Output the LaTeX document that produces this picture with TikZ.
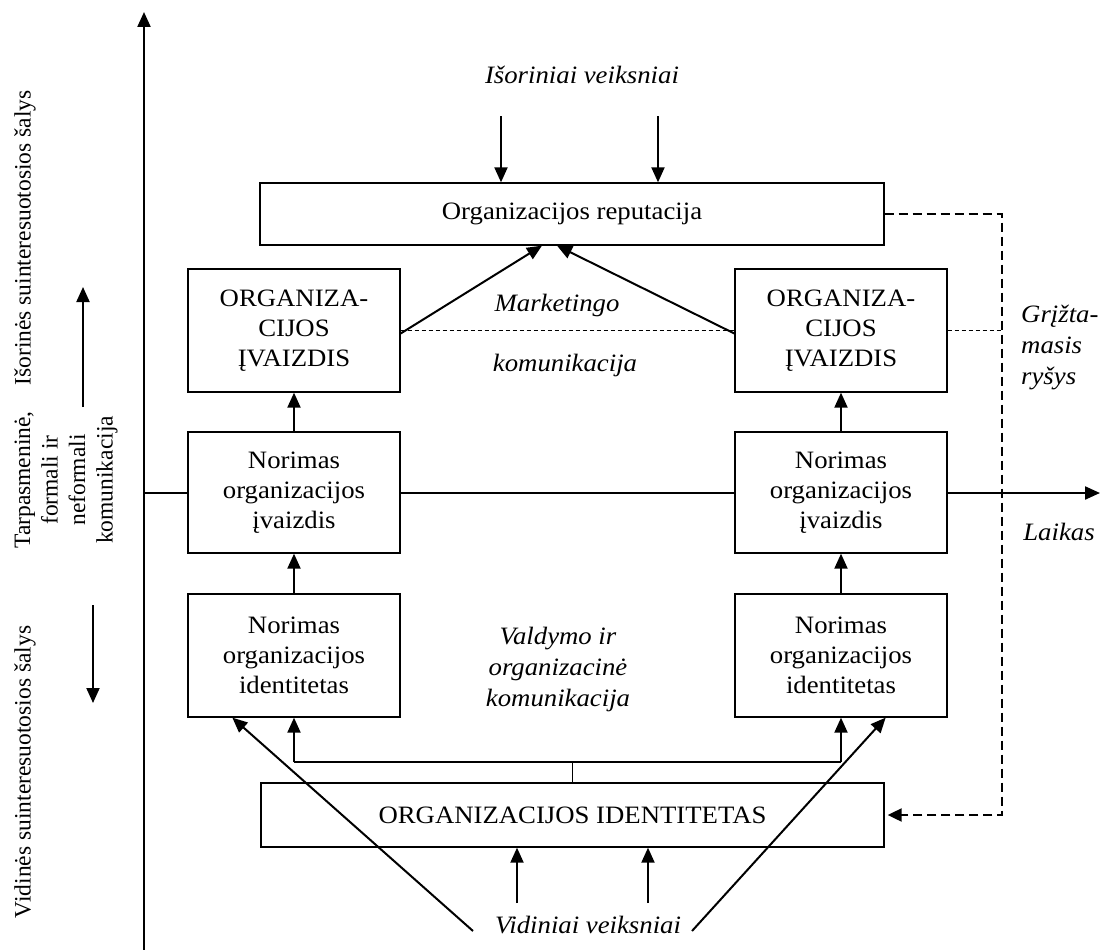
\documentclass[tikz,border=0pt]{standalone}
\usepackage{fontspec}
\setmainfont{Liberation Serif}[FakeStretch=1.07]
\newfontfamily\sidefont{Liberation Serif}
\usetikzlibrary{arrows.meta,calc}

\begin{document}
\begin{tikzpicture}[x=1pt,y=-1pt,
  lbl/.style={font=\fontsize{25}{30}\selectfont, align=center, inner sep=0pt},
  itl/.style={font=\fontsize{25}{30}\selectfont\itshape, align=center, inner sep=0pt},
  box/.style={draw, line width=1.3pt, lbl, minimum width=212pt},
  sidetxt/.style={font=\sidefont\fontsize{23.5}{27.5}\selectfont, align=center, rotate=90, inner sep=0pt},
  arr/.style={line width=2pt, -{Triangle[length=15pt,width=13pt]}},
  axis/.style={line width=2.2pt, -{Triangle[length=15pt,width=13pt]}},
  thinline/.style={line width=1.1pt},
  thindash/.style={line width=0.9pt, dash pattern=on 4pt off 3pt},
  fbline/.style={line width=2pt, dash pattern=on 9pt off 5pt, -{Triangle[length=14pt,width=13pt]}}
]
\useasboundingbox (0,0) rectangle (1106,950);

% boxes
\node[box, minimum width=624pt, minimum height=62pt] (rep) at (572,214) {Organizacijos reputacija};
\node[box, minimum height=123pt] (imgL) at (294,330.5) {ORGANIZA-\\CIJOS\\ĮVAIZDIS};
\node[box, minimum height=123pt] (imgR) at (841,330.5) {ORGANIZA-\\CIJOS\\ĮVAIZDIS};
\node[box, minimum height=121pt] (wimgL) at (294,492.5) {Norimas\\organizacijos\\įvaizdis};
\node[box, minimum height=121pt] (wimgR) at (841,492.5) {Norimas\\organizacijos\\įvaizdis};
\node[box, minimum height=123pt] (widL) at (294,655.5) {Norimas\\organizacijos\\identitetas};
\node[box, minimum height=123pt] (widR) at (841,655.5) {Norimas\\organizacijos\\identitetas};
\node[box, minimum width=623pt, minimum height=64pt] (ident) at (572.5,815) {ORGANIZACIJOS IDENTITETAS};

% free labels
\node[itl] (ext) at (582,75) {Išoriniai veiksniai};
\node[itl] (int) at (588,925) {Vidiniai veiksniai};
\node[itl] (mk1) at (557,305) {Marketingo};
\node[itl] (mk2) at (565,365) {komunikacija};
\node[itl, font=\fontsize{25}{31}\selectfont\itshape] (mgmt) at (558,669) {Valdymo ir\\organizacinė\\komunikacija};
\node[itl, font=\fontsize{25}{31}\selectfont\itshape, align=left, anchor=west] (fbtxt) at (1021,348) {Grįžta-\\masis\\ryšys};
\node[itl] (time) at (1059,532) {Laikas};

% side labels
\node[sidetxt] (outer) at (25,238) {Išorinės suinteresuotosios šalys};
\node[sidetxt] (inner) at (25,772) {Vidinės suinteresuotosios šalys};
\node[sidetxt] (comm) at (66,480) {Tarpasmeninė,\\formali ir\\neformali\\komunikacija};

% coordinates for free ends
\coordinate (axb) at (144,950);
\coordinate (axt) at (144,12);
\coordinate (hz) at (144,493);
\coordinate (hzt) at (1100,493);
\coordinate (upS) at (83,407);
\coordinate (upE) at (83,287);
\coordinate (dnS) at (93,605);
\coordinate (dnE) at (93,703);
\coordinate (e1) at (501,116);
\coordinate (e2) at (658,116);
\coordinate (i1) at (517,903);
\coordinate (i2) at (648,903);
\coordinate (dl) at (473,931);
\coordinate (dr) at (692,931);
\coordinate (fbx) at (1002,500);

% axes
\draw[axis] (axb) -- (axt);
\draw[thinline] (hz) -- (hz -| wimgL.west);
\draw[thinline] (wimgL.east |- hz) -- (wimgR.west |- hz);
\draw[axis] (wimgR.east |- hz) -- (hzt);

% side direction arrows
\draw[arr] (upS) -- (upE);
\draw[arr] (dnS) -- (dnE);

% external factors
\draw[arr] (e1) -- (e1 |- rep.north);
\draw[arr] (e2) -- (e2 |- rep.north);

% images to reputation
\draw[arr] ([yshift=-3pt]imgL.east) -- ([xshift=-30pt]rep.south);
\draw[arr] ([yshift=-3pt]imgR.west) -- ([xshift=-15pt]rep.south);
\draw[thindash] (imgL.east) -- (imgR.west);
\draw[thindash] (imgR.east) -- (imgR.east -| fbx);

% column arrows
\draw[arr] (wimgL.north) -- (imgL.south);
\draw[arr] (wimgR.north) -- (imgR.south);
\draw[arr] (widL.north) -- (wimgL.south);
\draw[arr] (widR.north) -- (wimgR.south);

% identity bracket
\draw[thinline] (ident.north) -- ++(0,-20) coordinate (brk);
\draw[line width=2pt] (widL.south |- brk) -- (widR.south |- brk);
\draw[arr] (widL.south |- brk) -- (widL.south);
\draw[arr] (widR.south |- brk) -- (widR.south);

% internal factors
\draw[arr] (i1) -- (i1 |- ident.south);
\draw[arr] (i2) -- (i2 |- ident.south);
\draw[arr] (dl) -- ([xshift=45pt]widL.south west);
\draw[arr] (dr) -- ([xshift=-62pt]widR.south east);

% feedback loop
\draw[fbline] (rep.east) -- (rep.east -| fbx) -- (ident.east -| fbx) -- ([xshift=3pt]ident.east);
\end{tikzpicture}
\end{document}
